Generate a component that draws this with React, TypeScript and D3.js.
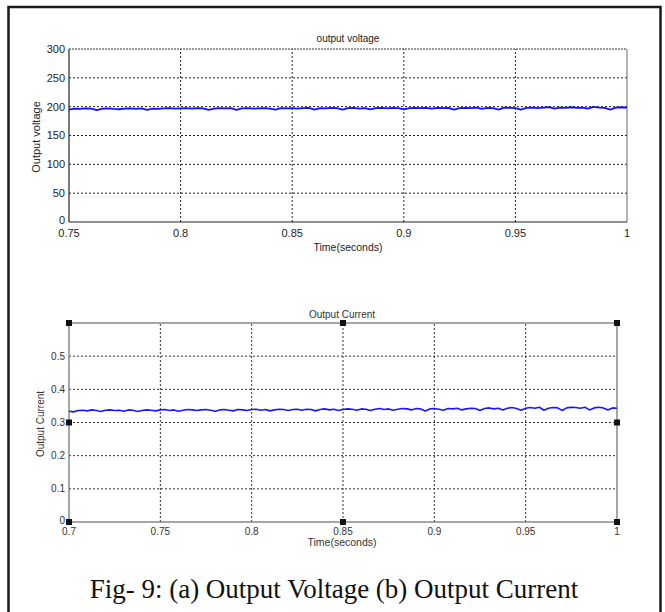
import React from "react";
import * as d3 from "d3";

// ---------- data ----------
const voltageStart = 0.75;
const voltageStep = 0.0025;
const voltageValues = [
  195, 196.5, 196, 197, 196.5, 194, 196.5, 197, 196, 195.5,
  196.5, 197, 196, 197, 194.5, 196.5, 196, 197, 197.5, 196.5,
  197, 197.5, 196.5, 197.5, 197, 194.5, 196.5, 197.5, 197, 197.5,
  194.5, 197, 197.5, 196.5, 197, 197.5, 196.5, 195, 197.5, 197,
  197.5, 196.5, 197.5, 198, 195, 197.5, 197, 198, 197.5, 195,
  197.5, 198, 196.5, 197.5, 195.5, 197.5, 198, 197, 198, 197.5,
  195.5, 197.5, 198, 197.5, 198, 196.5, 198, 197.5, 198, 195,
  197.5, 198, 197.5, 198.5, 196, 198, 197.5, 195, 198.5, 198,
  197.5, 195, 198, 198.5, 197.5, 198.5, 199, 196.5, 198.5, 198,
  199, 198, 198.5, 196.5, 199.5, 198.5, 198, 195, 198.5, 199,
  198.5,
];
const voltageXTicks = [0.75, 0.8, 0.85, 0.9, 0.95, 1];
const voltageXLabels = ["0.75", "0.8", "0.85", "0.9", "0.95", "1"];
const voltageYTicks = [0, 50, 100, 150, 200, 250, 300];

const currentStart = 0.7;
const currentStep = 0.0025;
const currentValues = [
  0.334, 0.332, 0.336, 0.337, 0.335, 0.338, 0.336, 0.333, 0.337, 0.338,
  0.336, 0.337, 0.334, 0.338, 0.337, 0.333, 0.336, 0.338, 0.337, 0.335,
  0.338, 0.339, 0.336, 0.338, 0.334, 0.337, 0.339, 0.338, 0.336, 0.338,
  0.339, 0.337, 0.334, 0.338, 0.339, 0.337, 0.335, 0.339, 0.338, 0.336,
  0.339, 0.34, 0.337, 0.339, 0.335, 0.338, 0.34, 0.339, 0.336, 0.339,
  0.34, 0.337, 0.34, 0.339, 0.335, 0.339, 0.341, 0.338, 0.34, 0.336,
  0.339, 0.341, 0.34, 0.337, 0.341, 0.34, 0.336, 0.34, 0.342, 0.339,
  0.341, 0.337, 0.34, 0.342, 0.341, 0.338, 0.342, 0.341, 0.335, 0.341,
  0.342, 0.34, 0.337, 0.342, 0.341, 0.343, 0.338, 0.341, 0.343, 0.342,
  0.336, 0.342, 0.344, 0.341, 0.343, 0.338, 0.343, 0.345, 0.342, 0.337,
  0.343, 0.345, 0.343, 0.346, 0.337, 0.343, 0.345, 0.344, 0.336, 0.344,
  0.346, 0.345, 0.343, 0.346, 0.338, 0.344, 0.346, 0.344, 0.338, 0.344,
  0.343,
];
const currentXTicks = [0.7, 0.75, 0.8, 0.85, 0.9, 0.95, 1];
const currentXLabels = ["0.7", "0.75", "0.8", "0.85", "0.9", "0.95", "1"];
const currentYTicks = [0, 0.1, 0.2, 0.3, 0.4, 0.5];
const currentYLabels = ["0", "0.1", "0.2", "0.3", "0.4", "0.5"];
const currentHandles: [number, number][] = [
  [0.7, 0.6], [0.85, 0.6], [1, 0.6], [0.7, 0.3], [1, 0.3], [0.7, 0], [0.85, 0], [1, 0],
];

const caption = "Fig- 9: (a) Output Voltage (b) Output Current";

// ---------- component ----------
const SANS = "'Liberation Sans', Arial, sans-serif";

export default function App() {
  // top plot
  const vx = d3.scaleLinear().domain([0.75, 1]).range([69, 627]);
  const vy = d3.scaleLinear().domain([0, 300]).range([222, 49]);
  const vPts: [number, number][] = voltageValues.map((v, i) => [voltageStart + i * voltageStep, v]);
  const vLine = d3.line<[number, number]>().x((d) => vx(d[0])).y((d) => vy(d[1]))(vPts) || "";

  // bottom plot
  const cx = d3.scaleLinear().domain([0.7, 1]).range([69, 617]);
  const cy = d3.scaleLinear().domain([0, 0.6]).range([522, 323]);
  const cPts: [number, number][] = currentValues.map((v, i) => [currentStart + i * currentStep, v]);
  const cLine = d3.line<[number, number]>().x((d) => cx(d[0])).y((d) => cy(d[1]))(cPts) || "";

  return (
    <svg
      width={665}
      height={612}
      style={{ position: "absolute", left: 0, top: 0, background: "#fff" }}
    >
      <rect x={0} y={0} width={665} height={612} fill="#fff" />
      {/* outer frame */}
      <rect x={8.5} y={7} width={652} height={640} fill="none" stroke="#1a1a1a" strokeWidth={2.5} />

      {/* ===== top plot ===== */}
      <g fontFamily={SANS}>
        {voltageYTicks.filter((t) => t > 0 && t < 300).map((t) => (
          <line key={"vgy" + t} x1={vx(0.75)} x2={vx(1)} y1={vy(t)} y2={vy(t)} stroke="#222" strokeWidth={1} strokeDasharray="2,2" />
        ))}
        {voltageXTicks.filter((t) => t > 0.75 && t < 1).map((t) => (
          <line key={"vgx" + t} x1={vx(t)} x2={vx(t)} y1={vy(0)} y2={vy(300)} stroke="#222" strokeWidth={1} strokeDasharray="2,2" />
        ))}
        <line x1={vx(0.75)} x2={vx(1)} y1={vy(300)} y2={vy(300)} stroke="#333" strokeWidth={1} strokeDasharray="2,1" />
        <line x1={vx(1)} x2={vx(1)} y1={vy(0)} y2={vy(300)} stroke="#666" strokeWidth={1} />
        <line x1={vx(0.75)} x2={vx(0.75)} y1={vy(0)} y2={vy(300)} stroke="#222" strokeWidth={1.2} />
        <line x1={vx(0.75)} x2={vx(1)} y1={vy(0)} y2={vy(0)} stroke="#222" strokeWidth={1.2} />
        <path d={vLine} fill="none" stroke="#1010ff" strokeWidth={1.8} strokeLinejoin="round" />
        {voltageYTicks.map((t) => (
          <text key={"vyl" + t} x={65} y={t === 0 ? vy(t) - 2 : vy(t)} dy="0.35em" textAnchor="end" fontSize={11} fill="#222">
            {t}
          </text>
        ))}
        {voltageXTicks.map((t, i) => (
          <text key={"vxl" + t} x={vx(t)} y={233} dy="0.35em" textAnchor="middle" fontSize={11} fill="#222">
            {voltageXLabels[i]}
          </text>
        ))}
        <text x={348} y={38} dy="0.35em" textAnchor="middle" fontSize={10} fill="#222">output voltage</text>
        <text x={348} y={247} dy="0.35em" textAnchor="middle" fontSize={10.5} fill="#222">Time(seconds)</text>
        <text transform="translate(36,137) rotate(-90)" dy="0.35em" textAnchor="middle" fontSize={11} fill="#222">Output voltage</text>
      </g>

      {/* ===== bottom plot ===== */}
      <g fontFamily={SANS}>
        {currentYTicks.filter((t) => t > 0).map((t) => (
          <line key={"cgy" + t} x1={cx(0.7)} x2={cx(1)} y1={cy(t)} y2={cy(t)} stroke="#333" strokeWidth={1} strokeDasharray="2,2" />
        ))}
        {currentXTicks.filter((t) => t > 0.7 && t < 1).map((t) => (
          <line key={"cgx" + t} x1={cx(t)} x2={cx(t)} y1={cy(0)} y2={cy(0.6)} stroke="#333" strokeWidth={1} strokeDasharray="2,2" />
        ))}
        <rect x={cx(0.7)} y={cy(0.6)} width={cx(1) - cx(0.7)} height={cy(0) - cy(0.6)} fill="none" stroke="#777" strokeWidth={1.3} />
        <path d={cLine} fill="none" stroke="#1818ff" strokeWidth={1.6} strokeLinejoin="round" />
        {currentYTicks.map((t, i) => (
          <text key={"cyl" + t} x={65} y={t === 0 ? cy(t) - 2 : cy(t)} dy="0.35em" textAnchor="end" fontSize={10} fill="#333">
            {currentYLabels[i]}
          </text>
        ))}
        {currentXTicks.map((t, i) => (
          <text key={"cxl" + t} x={cx(t)} y={531} dy="0.35em" textAnchor="middle" fontSize={10} fill="#333">
            {currentXLabels[i]}
          </text>
        ))}
        {currentHandles.map(([hx, hy], i) => (
          <rect key={"h" + i} x={cx(hx) - 3} y={cy(hy) - 3} width={6} height={6} fill="#111" />
        ))}
        <text x={342} y={314} dy="0.35em" textAnchor="middle" fontSize={10} fill="#333">Output Current</text>
        <text x={342} y={542} dy="0.35em" textAnchor="middle" fontSize={10.5} fill="#333">Time(seconds)</text>
        <text transform="translate(40,424) rotate(-90)" dy="0.35em" textAnchor="middle" fontSize={10} fill="#333">Output Current</text>
      </g>

      {/* caption */}
      <text x={334} y={598} textAnchor="middle" fontFamily="'Liberation Serif', 'Times New Roman', serif" fontSize={27} fill="#111">
        {caption}
      </text>
    </svg>
  );
}
